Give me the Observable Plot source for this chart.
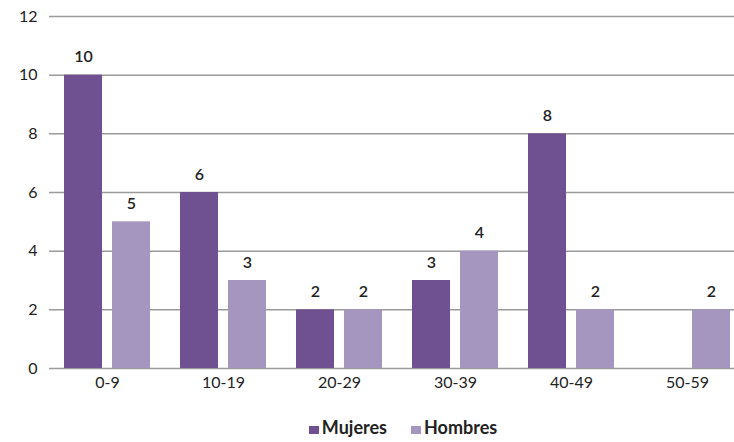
<!DOCTYPE html>
<html>
<head>
<meta charset="utf-8">
<script src="https://cdn.jsdelivr.net/npm/d3@7"></script>
<script src="https://cdn.jsdelivr.net/npm/@observablehq/plot@0.6"></script>
<style>
  body { margin: 0; background: #fff; font-family: Lato, "Open Sans", sans-serif; }
  #chart svg { display: block; }
  .legend { display: flex; justify-content: center; align-items: center; gap: 24px; margin-top: 18px; margin-left: 72px; font-weight: 700; font-size: 18px; line-height: 22px; color: #222; }
  .legend span.sw { display: inline-block; width: 10px; height: 8px; margin-right: 3px; }
</style>
</head>
<body>
<div id="chart"></div>
<script>
const groups = ["0-9", "10-19", "20-29", "30-39", "40-49", "50-59"];
const mujeres = [10, 6, 2, 3, 8, 0];
const hombres = [5, 3, 2, 4, 2, 2];
const series = ["Mujeres", "Hombres"];
const colors = ["#6f5191", "#a596bf"];
const yTicks = [0, 2, 4, 6, 8, 10, 12];

const data = groups.flatMap((g, i) => [
  {group: g, sex: series[0], value: mujeres[i]},
  {group: g, sex: series[1], value: hombres[i]}
]);

const chart = Plot.plot({
  width: 734,
  height: 398,
  marginLeft: 47,
  marginRight: -13,
  marginTop: 16,
  marginBottom: 30,
  style: {fontFamily: "Lato, 'Open Sans', sans-serif", fontSize: "16px", color: "#222", background: "#fff"},
  fx: {domain: groups, padding: 0, label: null, axis: "bottom", tickSize: 0, tickPadding: 8},
  x: {domain: series, paddingInner: 0.208, paddingOuter: 0.31, axis: null},
  y: {domain: [0, 12], ticks: yTicks, tickSize: 0, tickPadding: 12, label: null},
  color: {domain: series, range: colors},
  marks: [
    Plot.ruleY(yTicks, {stroke: "#9a9a9a", strokeWidth: 1.5}),
    Plot.barY(data, {fx: "group", x: "sex", y: "value", fill: "sex"}),
    Plot.text(data.filter(d => d.value > 0), {fx: "group", x: "sex", y: "value", text: d => String(d.value), dy: -18, fontSize: 16, fontWeight: 600, fill: "#222"})
  ]
});
document.getElementById("chart").appendChild(chart);

const legend = document.createElement("div");
legend.className = "legend";
series.forEach((s, i) => {
  const item = document.createElement("div");
  const sw = document.createElement("span");
  sw.className = "sw";
  sw.style.background = colors[i];
  item.appendChild(sw);
  item.appendChild(document.createTextNode(s));
  legend.appendChild(item);
});
document.body.appendChild(legend);
</script>
</body>
</html>
